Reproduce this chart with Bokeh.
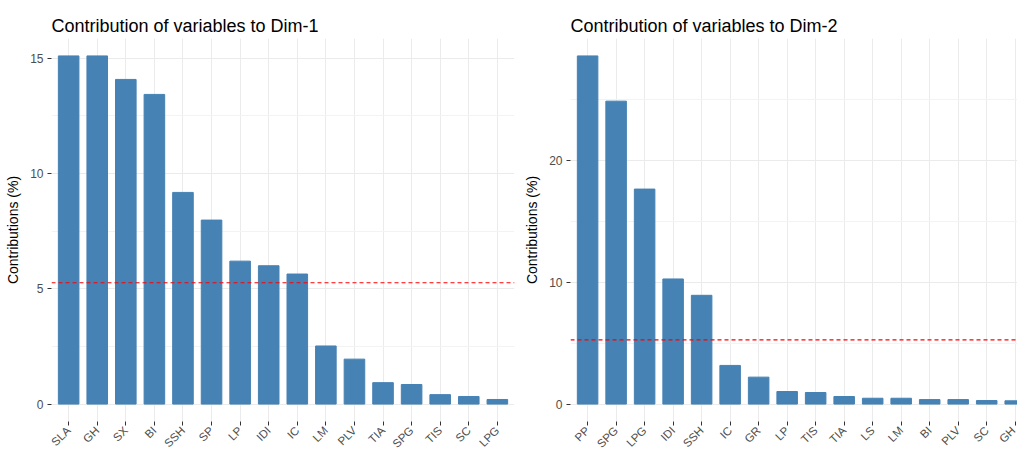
import math

from bokeh.embed import file_html
from bokeh.layouts import row
from bokeh.models import ColumnDataSource, FixedTicker, Range1d, Span
from bokeh.plotting import figure
from bokeh.resources import INLINE

# Contributions (%) of the variables to the first two dimensions
dim1_vars = ["SLA", "GH", "SX", "BI", "SSH", "SP", "LP", "IDI", "IC", "LM",
             "PLV", "TIA", "SPG", "TIS", "SC", "LPG"]
dim1_contrib = [15.10, 15.10, 14.08, 13.43, 9.18, 7.98, 6.20, 6.00, 5.64, 2.52,
                1.95, 0.93, 0.85, 0.41, 0.33, 0.20]

dim2_vars = ["PP", "SPG", "LPG", "IDI", "SSH", "IC", "GR", "LP", "TIS", "TIA",
             "LS", "LM", "BI", "PLV", "SC", "GH"]
dim2_contrib = [28.55, 24.84, 17.63, 10.26, 8.92, 3.17, 2.21, 1.03, 0.95, 0.62,
                0.48, 0.48, 0.37, 0.37, 0.29, 0.27]

dim1_yticks = [0, 5, 10, 15]
dim1_yminor = [2.5, 7.5, 12.5]
dim2_yticks = [0, 10, 20]
dim2_yminor = [5, 15, 25]

# expected average contribution if all 19 variables contributed equally
n_variables = 19
expected = 100 / n_variables

FONT = "Liberation Sans"
BAR = "#4682B4"
GRID = "#EBEBEB"
TEXT_GREY = "#4D4D4D"


def contrib_panel(title, names, values, yticks, yminor, x_end, width,
                  border_left, border_right):
    n = len(names)
    vmax = max(values)
    p = figure(
        width=width, height=457,
        x_range=Range1d(-0.6, x_end),
        y_range=Range1d(-0.05 * vmax, 1.05 * vmax),
        output_backend="svg", toolbar_location=None,
        min_border_left=border_left, min_border_right=border_right,
        min_border_top=38, min_border_bottom=20,
        background_fill_color="white", border_fill_color="white",
    )
    p.outline_line_color = None

    p.title.text = title
    p.title.text_font = FONT
    p.title.text_font_size = "18px"
    p.title.text_font_style = "normal"
    p.title.text_color = "black"
    p.title.offset = 0
    p.title.standoff = 6

    src = ColumnDataSource(dict(x=list(range(n)), v=values))

    p.vbar(x="x", top="v", bottom=0, width=0.72, source=src,
           fill_color=BAR, line_color=BAR, line_width=1)

    p.add_layout(Span(location=expected, dimension="width",
                      line_color="red", line_dash="4 3", line_width=1.1))

    # x axis: one tick per variable, names rotated 45 degrees
    p.xaxis.ticker = FixedTicker(ticks=list(range(n)))
    p.xaxis.major_label_overrides = {i: name for i, name in enumerate(names)}
    p.xaxis.major_label_orientation = math.pi / 4
    p.xaxis.axis_line_color = None
    p.xaxis.major_tick_in = 0
    p.xaxis.major_tick_out = 4
    p.xaxis.major_tick_line_color = "#333333"
    p.xaxis.minor_tick_line_color = None
    p.xaxis.major_label_standoff = 3
    p.xaxis.major_label_text_font = FONT
    p.xaxis.major_label_text_font_size = "11.5px"
    p.xaxis.major_label_text_color = TEXT_GREY

    # y axis
    p.yaxis.ticker = FixedTicker(ticks=yticks, minor_ticks=yminor)
    p.yaxis.axis_line_color = None
    p.yaxis.major_tick_in = 0
    p.yaxis.major_tick_out = 4
    p.yaxis.major_tick_line_color = "#333333"
    p.yaxis.minor_tick_line_color = None
    p.yaxis.major_label_standoff = 4
    p.yaxis.major_label_text_font = FONT
    p.yaxis.major_label_text_font_size = "12px"
    p.yaxis.major_label_text_color = TEXT_GREY
    p.yaxis.axis_label = "Contributions (%)"
    p.yaxis.axis_label_text_font = FONT
    p.yaxis.axis_label_text_font_size = "14px"
    p.yaxis.axis_label_text_font_style = "normal"
    p.yaxis.axis_label_text_color = "black"
    p.yaxis.axis_label_standoff = 6

    # grid
    p.xgrid.grid_line_color = GRID
    p.xgrid.grid_line_width = 1
    p.ygrid.grid_line_color = GRID
    p.ygrid.grid_line_width = 1
    p.ygrid.minor_grid_line_color = "#F3F3F3"
    p.ygrid.minor_grid_line_width = 1
    return p


p1 = contrib_panel("Contribution of variables to Dim-1", dim1_vars, dim1_contrib,
                   dim1_yticks, dim1_yminor, x_end=len(dim1_vars) - 0.4,
                   width=520, border_left=51, border_right=6)
p2 = contrib_panel("Contribution of variables to Dim-2", dim2_vars, dim2_contrib,
                   dim2_yticks, dim2_yminor, x_end=15.08,
                   width=497, border_left=50, border_right=0)

layout = row(p1, p2)
open("out.html", "w").write(file_html(layout, INLINE))
